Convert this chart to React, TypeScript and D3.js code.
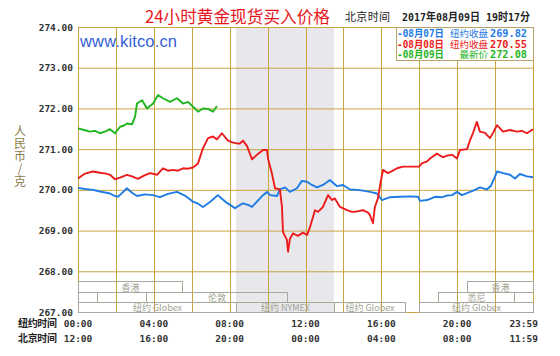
import React from "react";
import * as d3 from "d3";

// ---- data (NY hour, price RMB/g) ----
const aug07: [number, number][] = [
  [0, 270.05], [0.37, 270.02], [0.79, 270.0], [1.16, 269.96], [1.69, 269.91], [1.9, 269.86], [2.11, 269.83],
  [2.32, 269.92], [2.58, 270.04], [2.85, 269.93], [3.11, 269.85], [3.53, 269.89], [3.96, 269.87], [4.32, 269.82],
  [4.75, 269.9], [5.22, 269.95], [5.64, 269.86], [6.07, 269.71], [6.33, 269.66], [6.59, 269.58], [6.96, 269.7],
  [7.38, 269.87], [7.59, 269.78], [7.86, 269.68], [8.12, 269.6], [8.28, 269.55], [8.7, 269.67], [8.97, 269.63],
  [9.18, 269.58], [9.44, 269.71], [9.76, 269.87], [9.97, 269.95], [10.13, 269.87], [10.5, 269.85], [10.65, 270.01],
  [10.92, 270.06], [11.18, 269.95], [11.55, 270.04], [11.81, 270.22], [12.08, 270.2], [12.34, 270.12], [12.61, 270.06],
  [12.92, 270.12], [13.29, 270.24], [13.66, 270.09], [13.98, 270.12], [14.35, 270.01], [14.72, 270.0], [15.03, 269.98],
  [15.4, 269.95], [15.77, 269.91], [16.03, 269.75], [16.46, 269.82], [16.98, 269.83], [17.51, 269.84], [17.93, 269.83],
  [18.04, 269.73], [18.41, 269.75], [18.83, 269.83], [19.2, 269.82], [19.46, 269.86], [19.73, 269.87], [19.99, 269.95],
  [20.25, 269.87], [20.68, 269.95], [20.94, 270.0], [21.2, 270.06], [21.57, 270.01], [21.78, 270.1], [21.99, 270.32],
  [22.1, 270.45], [22.42, 270.41], [22.78, 270.37], [23.05, 270.28], [23.31, 270.39], [23.68, 270.33], [24, 270.31],
];
const aug08: [number, number][] = [
  [0, 270.28], [0.37, 270.4], [0.79, 270.45], [1.16, 270.42], [1.48, 270.4], [1.69, 270.37], [1.95, 270.26],
  [2.22, 270.3], [2.58, 270.37], [2.85, 270.33], [3.16, 270.27], [3.48, 270.35], [3.8, 270.41], [4.17, 270.37],
  [4.48, 270.53], [4.75, 270.47], [5.01, 270.49], [5.27, 270.47], [5.54, 270.53], [5.8, 270.52], [6.07, 270.55],
  [6.33, 270.65], [6.59, 271.02], [6.86, 271.27], [7.12, 271.31], [7.33, 271.24], [7.59, 271.39], [7.91, 271.21],
  [8.18, 271.16], [8.39, 271.14], [8.54, 271.14], [8.7, 271.21], [8.91, 271.08], [9.18, 270.75], [9.44, 270.86],
  [9.76, 270.98], [9.97, 270.98], [10.02, 270.77], [10.23, 270.4], [10.39, 270.04], [10.65, 270.01], [10.76, 269.58],
  [10.81, 268.97], [11.02, 268.77], [11.08, 268.48], [11.18, 268.8], [11.34, 268.93], [11.6, 268.87], [11.87, 268.95],
  [12.08, 268.89], [12.24, 269.09], [12.5, 269.5], [12.66, 269.46], [12.92, 269.58], [13.19, 269.87], [13.4, 269.75],
  [13.55, 269.79], [13.82, 269.58], [14.19, 269.5], [14.45, 269.46], [14.72, 269.47], [15.03, 269.5], [15.3, 269.44],
  [15.4, 269.38], [15.56, 269.18], [15.66, 269.58], [15.82, 269.79], [15.93, 270.1], [16.09, 270.49], [16.35, 270.41],
  [16.56, 270.46], [16.83, 270.53], [17.14, 270.57], [17.51, 270.57], [17.99, 270.57], [18.14, 270.65], [18.41, 270.7],
  [18.57, 270.77], [18.93, 270.89], [19.25, 270.8], [19.46, 270.84], [19.73, 270.86], [19.99, 270.77], [20.15, 270.98],
  [20.52, 271.0], [20.68, 271.22], [20.83, 271.39], [21.04, 271.67], [21.2, 271.43], [21.47, 271.4], [21.73, 271.27],
  [21.89, 271.4], [22.1, 271.59], [22.42, 271.43], [22.78, 271.47], [23.15, 271.43], [23.42, 271.45], [23.68, 271.39],
  [24, 271.49],
];
const aug09: [number, number][] = [
  [0, 271.51], [0.32, 271.47], [0.63, 271.43], [0.9, 271.45], [1.16, 271.39], [1.42, 271.43], [1.69, 271.49],
  [1.95, 271.39], [2.22, 271.55], [2.43, 271.58], [2.58, 271.63], [2.85, 271.61], [3.01, 271.8], [3.11, 272.12],
  [3.38, 272.2], [3.64, 272.0], [3.96, 272.12], [4.22, 272.33], [4.48, 272.25], [4.85, 272.16], [5.22, 272.25],
  [5.54, 272.12], [5.8, 272.16], [6.07, 272.04], [6.33, 271.92], [6.59, 272.0], [6.86, 271.99], [7.12, 271.92],
  [7.33, 272.06],
];

const yTicks = [267, 268, 269, 270, 271, 272, 273, 274];
const xGridHours = d3.range(0, 25, 2);
const xTickHours = [0, 4, 8, 12, 16, 20];
const nyLabels = ["00:00", "04:00", "08:00", "12:00", "16:00", "20:00"];
const bjLabels = ["12:00", "16:00", "20:00", "00:00", "04:00", "08:00"];
const nyLast = "23:59";
const bjLast = "11:59";

const nymexSpan = [8.33, 13.5];

const sessionLabels = ["香港", "香港", "", "伦敦", "悉尼", "纽约 Globex", "纽约 NYMEX", "纽约 Globex", "纽约 Globex"];
const sessionStarts = [0, 20.5, 0, 3.6, 19, 0, 8.33, 13.5, 18];
const sessionEnds = [5.5, 24, 1, 11, 23, 8.33, 13.5, 17.25, 24];
const sessionRows = [0, 0, 1, 1, 1, 2, 2, 2, 2];
const rowTops = [267.75, 267.5, 267.25];
const rowBottoms = [267.5, 267.25, 267.0];

const legendDates = ["-08月07日", "-08月08日", "-08月09日"];
const legendNames = ["纽约收盘", "纽约收盘", "最新价"];
const legendValues = ["269.82", "270.55", "272.08"];

const COLORS = ["#1e7be6", "#ec1c1c", "#1fb51f"];
const GRID = "#c9a441";
const MONO = "'DejaVu Sans Mono','Noto Sans CJK SC',monospace";
const CJK = "'Noto Sans CJK SC',sans-serif";

export default function App() {
  const W = 560, H = 356;
  const x = d3.scaleLinear().domain([0, 24]).range([78, 533]);
  const y = d3.scaleLinear().domain([267, 274]).range([312, 27]);
  const line = d3.line<[number, number]>().x((d) => x(d[0])).y((d) => y(d[1]));
  const series = [aug07, aug08, aug09];

  return (
    <div style={{ position: "absolute", left: 0, top: 0, background: "#fff" }}>
      <svg width={W} height={H} style={{ display: "block" }}>
        <rect width={W} height={H} fill="#fff" />
        {/* NYMEX shade */}
        <rect x={x(nymexSpan[0])} y={y(274)} width={x(nymexSpan[1]) - x(nymexSpan[0])} height={y(267) - y(274)} fill="#e8e8ec" />
        {/* grid */}
        {yTicks.map((t) => (
          <line key={"h" + t} x1={x(0)} x2={x(24)} y1={y(t) + 0.5} y2={y(t) + 0.5} stroke={GRID} strokeWidth={1} />
        ))}
        {xGridHours.map((h) => (
          <line key={"v" + h} x1={Math.round(x(h)) + 0.5} x2={Math.round(x(h)) + 0.5} y1={y(274)} y2={y(267)} stroke={GRID} strokeWidth={1} />
        ))}
        {/* sessions */}
        {sessionLabels.map((lab, i) => {
          const x0 = Math.round(x(sessionStarts[i])) + 0.5;
          const x1 = Math.round(x(sessionEnds[i])) + 0.5;
          const yt = Math.round(y(rowTops[sessionRows[i]])) + 0.5;
          const yb = Math.round(y(rowBottoms[sessionRows[i]])) + 0.5;
          return (
            <g key={"s" + i}>
              <rect x={x0} y={yt} width={x1 - x0} height={yb - yt} fill="none" stroke="#a8a89c" strokeWidth={1} />
              {lab && (
                <text x={(x0 + x1) / 2} y={yb - 1.5} textAnchor="middle" fontFamily={CJK} fontSize={9} fill="#a3a394">
                  {lab}
                </text>
              )}
            </g>
          );
        })}
        {/* series */}
        {series.map((s, i) => (
          <path key={"p" + i} d={line(s) || ""} fill="none" stroke={COLORS[i]} strokeWidth={1.9} strokeLinejoin="round" />
        ))}
        {/* y tick labels */}
        {yTicks.map((t) => (
          <text key={"yt" + t} x={73} y={y(t) + 3.5} textAnchor="end" fontFamily={MONO} fontWeight="bold" fontSize={9.5} fill="#333">
            {t.toFixed(2)}
          </text>
        ))}
        {/* y axis title */}
        <text x={20} y={125} fontFamily={CJK} fontSize={12} fill="#8b7d4b" letterSpacing={0.6}
          style={{ writingMode: "vertical-rl", textOrientation: "upright" } as any}>
          人民币/克
        </text>
        {/* x labels */}
        <text x={18} y={327} fontFamily={CJK} fontWeight="bold" fontSize={10} fill="#222" textLength={39}>纽约时间</text>
        <text x={18} y={342} fontFamily={CJK} fontWeight="bold" fontSize={10} fill="#222" textLength={39}>北京时间</text>
        {xTickHours.map((h, i) => (
          <g key={"xt" + h}>
            <text x={x(h)} y={327} textAnchor="middle" fontFamily={MONO} fontWeight="bold" fontSize={9.5} fill="#333">{nyLabels[i]}</text>
            <text x={x(h)} y={342} textAnchor="middle" fontFamily={MONO} fontWeight="bold" fontSize={9.5} fill="#333">{bjLabels[i]}</text>
          </g>
        ))}
        <text x={x(24) + 5} y={327} textAnchor="end" fontFamily={MONO} fontWeight="bold" fontSize={9.5} fill="#333">{nyLast}</text>
        <text x={x(24) + 5} y={342} textAnchor="end" fontFamily={MONO} fontWeight="bold" fontSize={9.5} fill="#333">{bjLast}</text>
        {/* title */}
        <text x={145} y={23} fontFamily={CJK} fontSize={17} fill="#e8161c" textLength={185} lengthAdjust="spacingAndGlyphs">24小时黄金现货买入价格</text>
        <text x={345} y={21} fontFamily={CJK} fontSize={11} fill="#222" textLength={45}>北京时间</text>
        <text x={402} y={21} fontFamily={MONO} fontWeight="bold" fontSize={11} fill="#222" textLength={128} lengthAdjust="spacingAndGlyphs">2017年08月09日 19时17分</text>
        {/* watermark */}
        <text x={80} y={47} fontFamily="'Liberation Sans',Arial,sans-serif" fontSize={16.5} fill="#3560d8" textLength={97}>www.kitco.cn</text>
        {/* legend */}
        <rect x={396.5} y={27.5} width={137} height={33} fill="#fff" stroke="#bba46a" strokeWidth={1} />
        {legendDates.map((d, i) => (
          <g key={"lg" + i} fill={COLORS[i]}>
            <text x={397} y={37 + i * 10.5} fontFamily={MONO} fontWeight="bold" fontSize={10} textLength={47} lengthAdjust="spacingAndGlyphs">{d}</text>
            <text x={488} y={37 + i * 10.5} textAnchor="end" fontFamily={CJK} fontSize={9.5} textLength={legendNames[i].length * 9.5} lengthAdjust="spacingAndGlyphs">{legendNames[i]}</text>
            <text x={490} y={37 + i * 10.5} fontFamily={MONO} fontWeight="bold" fontSize={10} textLength={37} lengthAdjust="spacingAndGlyphs">{legendValues[i]}</text>
          </g>
        ))}
      </svg>
    </div>
  );
}
